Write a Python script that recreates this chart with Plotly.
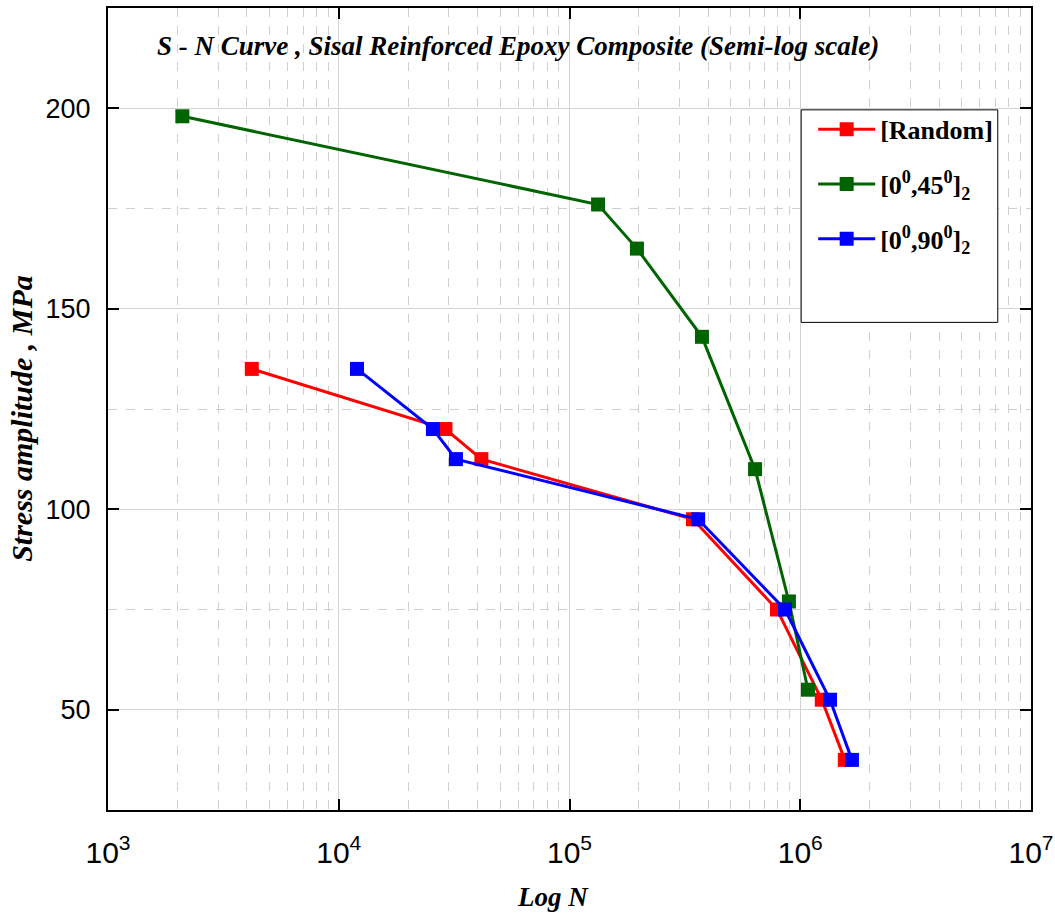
import plotly.graph_objects as go

# Data (N cycles, stress amplitude MPa)
random_N = [4200, 29000, 41500, 343000, 793000, 1240000, 1560000]
random_S = [135, 120, 112.5, 97.5, 75, 52.5, 37.5]

ang45_N = [2100, 133000, 196000, 375000, 637000, 893000, 1080000]
ang45_S = [198, 176, 165, 143, 110, 77, 55]

ang90_N = [12000, 25600, 32200, 361000, 859000, 1346000, 1675000]
ang90_S = [135, 120, 112.5, 97.5, 75, 52.5, 37.5]

names = ["[Random]", "[0<sup>0</sup>,45<sup>0</sup>]<sub>2</sub>", "[0<sup>0</sup>,90<sup>0</sup>]<sub>2</sub>"]
colors = ["#ff0000", "#006400", "#0000ff"]

serif = "Liberation Serif"
sans = "Liberation Sans"

fig = go.Figure()
for i, (xs, ys) in enumerate([(random_N, random_S), (ang45_N, ang45_S), (ang90_N, ang90_S)]):
    fig.add_trace(go.Scatter(
        x=xs, y=ys, mode="lines+markers", name=names[i],
        line=dict(color=colors[i], width=3),
        marker=dict(symbol="square", size=14, color=colors[i]),
        legendgroup=str(i),
    ))

axis_common = dict(
    showline=True, linecolor="black", linewidth=2, mirror="ticks",
    ticks="inside", ticklen=11, tickwidth=2, tickcolor="black",
    showgrid=True, gridcolor="#d3d3d3", gridwidth=1, zeroline=False,
)

fig.update_xaxes(
    type="log", range=[3, 7], dtick=1, exponentformat="power",
    tickfont=dict(family=sans, size=24, color="black"),
    ticklabelstandoff=16, ticklabeloverflow="allow",
    minor=dict(dtick="D1", showgrid=True, griddash="dash", gridcolor="#cfcfcf", ticks=""),
    **axis_common,
)
fig.update_yaxes(
    range=[25, 225], dtick=50,
    tickfont=dict(family=sans, size=27, color="black"),
    ticklabelstandoff=10,
    minor=dict(dtick=25, showgrid=True, griddash="dash", gridcolor="#cfcfcf", ticks=""),
    **axis_common,
)

# Legend box
fig.add_shape(type="rect", xref="paper", yref="paper", x0=0.751, x1=0.964, y0=0.608, y1=0.873,
              line=dict(color="black", width=1), fillcolor="white", layer="above")

fig.add_annotation(
    text="<b><i>S - N Curve , Sisal Reinforced Epoxy Composite (Semi-log scale)</i></b>",
    xref="paper", yref="paper", x=0.444, y=0.953, xanchor="center", yanchor="middle", showarrow=False,
    font=dict(family=serif, size=27, color="black"),
)
fig.add_annotation(
    text="<b><i>Log N</i></b>", xref="paper", yref="paper", x=0.482, y=-0.108,
    xanchor="center", yanchor="middle", showarrow=False,
    font=dict(family=serif, size=27, color="black"),
)
fig.add_annotation(
    text="<b><i>Stress amplitude , MPa</i></b>", xref="paper", yref="paper",
    x=-0.094, y=0.488, xanchor="center", yanchor="middle", textangle=-90, showarrow=False,
    font=dict(family=serif, size=30, color="black"),
)

fig.update_layout(
    width=1055, height=916,
    margin=dict(l=108, r=24, t=8, b=106, autoexpand=False),
    plot_bgcolor="white", paper_bgcolor="white",
    showlegend=True,
    legend=dict(
        x=0.764, y=0.878, xanchor="left", yanchor="top",
        bgcolor="rgba(0,0,0,0)", borderwidth=0,
        font=dict(family=serif, size=26, color="black", weight="bold"),
        tracegroupgap=18, itemwidth=57,
    ),
)

fig.write_html("out.html")
